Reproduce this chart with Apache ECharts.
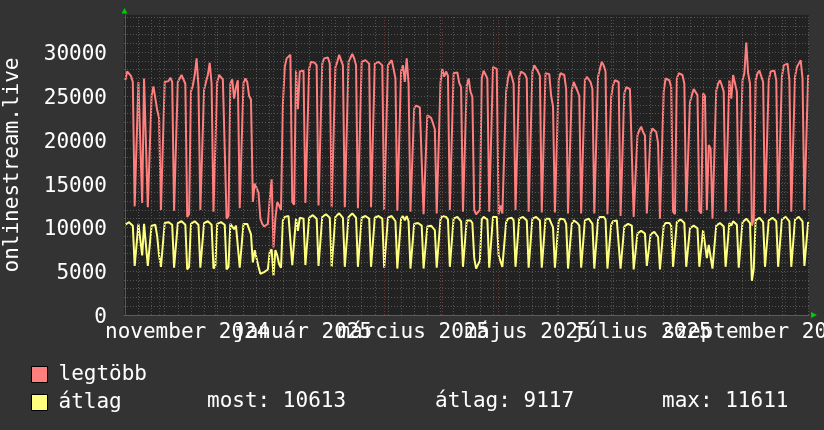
<!DOCTYPE html>
<html>
<head>
<meta charset="utf-8">
<script src="https://cdn.jsdelivr.net/npm/echarts@6/dist/echarts.min.js"></script>
<style>
html,body{margin:0;padding:0;background:#333333;}
#chart{width:824px;height:430px;}
</style>
</head>
<body>
<div id="chart"></div>
<script>
// ---- data (daily values, one row = one week Mon..Sun) ----
const startDate = '2024-10-14';
const legtobb = [
26800,27800,28000,27300,26600,12400,12300,
26600,26800,12800,27000,27200,12300,12200,
25000,26100,26300,23400,22500,12000,11800,
26600,26800,26700,27100,26600,11900,11800,
26600,27000,27400,27200,26400,11200,11500,
25500,26200,27400,29300,26100,12000,12100,
25700,26600,27400,28800,26400,11800,11800,
26600,27400,27200,26900,26700,11000,11300,
26400,26900,24700,26000,26800,12200,12000,
26500,27000,26600,25000,24600,12900,15000,
15000,14000,11000,10400,10100,10200,10400,
13200,15500,7700,11000,12900,12500,12000,
24000,28300,29300,29500,29700,12900,12600,
27900,23500,27800,27900,27900,12800,12700,
28100,28900,29000,28800,28500,12500,12600,
28700,29300,29500,29400,28700,12300,12500,
28300,28900,29700,29800,28500,12300,12400,
28900,29100,29800,29300,28500,12200,12300,
28900,29100,29100,28900,28700,12300,12400,
28700,28900,28900,28700,28500,12000,12200,
28500,28500,29100,28100,27000,11900,11800,
27800,28500,26600,29300,26400,11800,11600,
23600,23900,23800,23700,23500,11500,11400,
22800,23000,22500,21900,21200,11600,11500,
26500,28100,27200,27800,27300,12000,11900,
27600,27800,27700,26500,26000,11800,11800,
26200,27000,25500,24900,12000,11500,11300,
12000,27000,27900,27900,27000,11800,11600,
28300,28400,28100,11500,12500,11600,11500,
25500,27000,27900,27200,26400,12000,11800,
27200,27800,27800,27500,27000,11800,11700,
27800,28500,28500,27800,27300,11700,11600,
27600,27800,27500,25000,23800,11700,11600,
26800,27600,27800,27400,25800,11600,11500,
25600,26600,26800,25600,25000,11600,11400,
26800,27200,27400,26600,25800,11600,11400,
27200,28100,28900,28500,27800,11500,11400,
24900,26200,26800,26800,26600,11300,11200,
25300,26000,26200,25800,25600,11200,11000,
20500,21100,21500,20900,20500,11600,11400,
20700,21300,21500,20900,19600,11000,10800,
25500,27000,27200,26800,26000,11800,11500,
27000,27600,27800,27400,26400,11800,11600,
24300,25100,25800,25700,25100,11900,11600,
25300,25000,12000,19400,19000,11000,10800,
25600,26400,26800,26200,25500,11800,11600,
26800,24700,27400,27200,25500,11600,11500,
26800,27600,31100,27600,26400,10200,11000,
26800,27600,27900,27700,26600,11600,11400,
26800,27800,28000,27900,26800,11600,11500,
27200,28500,28700,28700,26800,11800,11600,
27200,28300,28500,29100,27000,12000,11900,
27400
];
const atlag = [
10300,10500,10600,10500,10200,5600,5800,
10400,10400,6800,10400,10300,5600,5800,
10200,10400,10300,9000,6800,5500,5600,
10500,10600,10600,10500,10300,5400,5600,
10500,10700,10700,10600,10300,5200,5500,
10400,10600,10700,10800,10300,5400,5600,
10500,10600,10700,10700,10300,5300,5600,
10400,10600,10600,10500,10300,5200,5500,
10400,10500,9800,10200,10300,5400,5600,
10400,10500,10400,9800,9200,6000,7400,
7200,5500,4700,4600,4900,5000,5200,
7200,7500,4500,7400,6800,5800,5400,
10800,11200,11300,11300,11100,5700,5800,
11000,9600,11100,11200,11000,5700,5800,
11100,11300,11400,11300,11000,5600,5800,
11200,11400,11500,11400,11100,5500,5700,
11200,11400,11611,11500,11100,5500,5700,
11200,11400,11600,11500,11100,5500,5700,
11100,11300,11300,11200,11000,5500,5700,
11100,11300,11300,11200,11000,5400,5600,
11100,11300,11300,11200,10700,5300,5500,
11000,11300,10800,11300,10700,5300,5500,
10400,10500,10500,10400,10200,5300,5500,
10100,10200,10200,10000,9700,5400,5500,
10900,11300,11200,11200,10900,5500,5600,
11000,11200,11200,11000,10700,5500,5600,
10800,11000,10800,10500,6500,5300,5400,
6200,10900,11200,11200,10900,5400,5600,
11200,11300,11200,6800,7000,5500,5500,
10600,11000,11200,11100,10800,5500,5600,
11000,11200,11200,11100,10800,5400,5600,
11000,11200,11200,11100,10800,5400,5500,
11000,11100,11000,10500,10000,5400,5500,
10700,11000,11000,10900,10400,5300,5400,
10400,10800,10800,10500,10200,5400,5500,
10800,11000,11000,10800,10400,5300,5400,
10900,11200,11300,11200,10900,5300,5400,
10300,10700,10800,10800,10600,5300,5300,
10100,10300,10400,10300,10200,5200,5300,
9300,9500,9600,9400,9300,5600,5500,
9200,9400,9500,9300,8900,5200,5200,
10200,10500,10600,10500,10200,5500,5500,
10600,10800,10900,10800,10500,5500,5500,
9900,10100,10200,10200,9900,5500,5400,
9700,9600,6500,8000,7800,5300,5300,
10200,10400,10500,10400,10100,5500,5500,
10500,10200,10700,10700,10300,5400,5500,
10600,10800,11000,10900,10500,3900,5300,
10800,11000,11100,11000,10600,5500,5500,
10800,11000,11100,11100,10700,5500,5600,
10900,11100,11200,11200,10700,5500,5600,
10900,11100,11200,11200,10700,5600,5700,
10613
];
const monthStarts = ['2024-11-01','2024-12-01','2025-01-01','2025-02-01','2025-03-01','2025-04-01',
  '2025-05-01','2025-06-01','2025-07-01','2025-08-01','2025-09-01','2025-10-01','2025-11-01'];
const labelMonthStarts = ['2024-11-01','2025-01-01','2025-03-01','2025-05-01','2025-07-01','2025-09-01'];
const labelMonthNames = ['november 2024','január 2025','március 2025','május 2025','július 2025','szeptember 2025'];
const seriesNames = ['legtöbb','átlag'];
const statTexts = ['most: 10613','átlag: 9117','max: 11611'];
const yAxisTitle = 'onlinestream.live';

// ---- helpers ----
const DAY = 86400000;
function dayIdx(s){ return (Date.parse(s+'T00:00:00Z') - Date.parse(startDate+'T00:00:00Z'))/DAY; }
const xMin = -0.69, xMax = 364.45;
const monthIdx = monthStarts.map(dayIdx);
const labelPos = labelMonthStarts.map(s => {
  const i = monthStarts.indexOf(s);
  return (monthIdx[i] + monthIdx[i+1]) / 2;
});
function labelFor(v){ let k=0,b=1e9; labelPos.forEach((p,i)=>{ if(Math.abs(p-v)<b){b=Math.abs(p-v);k=i;} }); return labelMonthNames[k]; }
// two label sets so neighbouring (overlapping) labels are all kept, as in the original
const labelPosA = labelPos.filter((p,i)=>i%2===0);
const labelPosB = labelPos.filter((p,i)=>i%2===1);
const weekLines = [];
for (let d = 0; d <= legtobb.length; d += 7) weekLines.push(d);

const FONT = 'DejaVu Sans Mono';
const RED = '#ff7f7f', YEL = '#ffff7f';
const minorCol = '#545454', majorCol = '#773535';
const TXT = '21px "DejaVu Sans Mono"';

function labelAxis(vals){
  return {type:'value', min:xMin, max:xMax, position:'bottom',
    axisLine:{show:false}, axisTick:{show:false}, splitLine:{show:false},
    axisLabel:{show:true, customValues:vals, showMinLabel:true, showMaxLabel:true, hideOverlap:false,
      margin:7, color:'#ffffff', fontFamily:FONT, fontSize:21, formatter: labelFor}};
}

const chart = echarts.init(document.getElementById('chart'), null, {renderer:'canvas'});
chart.setOption({
  animation: false,
  backgroundColor: '#333333',
  grid: {left:124, top:15, width:685, height:300, show:true, backgroundColor:'#222222', borderWidth:0,
         containLabel:false, outerBoundsMode:'none'},
  xAxis: [
    {type:'value', min:xMin, max:xMax, position:'bottom',
     axisLine:{show:true, lineStyle:{color:'#5c5c5c', width:1}}, axisTick:{show:false},
     axisLabel:{show:false}, splitLine:{show:false}},
    labelAxis(labelPosA),
    labelAxis(labelPosB)
  ],
  yAxis: [
    {type:'value', min:0, max:34250, interval:5000, position:'left',
     axisLine:{show:true, lineStyle:{color:'#5c5c5c'}}, axisTick:{show:false},
     axisLabel:{show:true, color:'#ffffff', fontFamily:FONT, fontSize:21, margin:17, showMaxLabel:false,
       verticalAlign:'top', lineHeight:5, formatter: v => String(v)},
     splitLine:{show:true, showMaxLine:false, lineStyle:{color:majorCol, type:[1,2], width:1}}},
    {type:'value', min:0, max:34250, interval:1000, position:'left',
     axisLine:{show:false}, axisTick:{show:false}, axisLabel:{show:false},
     splitLine:{show:true, showMaxLine:false, lineStyle:{color:minorCol, type:[1,2], width:1}}}
  ],
  legend: {
    orient:'vertical', left:26, top:359, itemWidth:16, itemHeight:16, itemGap:7, icon:'rect',
    data: seriesNames,
    itemStyle:{borderColor:'#000000', borderWidth:1},
    textStyle:{color:'#ffffff', fontFamily:FONT, fontSize:21, padding:[0,0,0,6]},
    selectedMode:false
  },
  series: [
    {type:'line', name:'grid', xAxisIndex:0, yAxisIndex:0, data:[], z:1, silent:true,
     markLine:{silent:true, symbol:['none','none'], label:{show:false}, animation:false,
       data: weekLines.map(d=>({xAxis:d, lineStyle:{color:minorCol, type:[1,2], width:1}}))
         .concat(monthIdx.map(d=>({xAxis:d, lineStyle:{color:majorCol, type:[1,2], width:1}})))
     }},
    {type:'line', name:seriesNames[0], xAxisIndex:0, yAxisIndex:0, z:3,
     data: legtobb.map((v,i)=>[i,v]), showSymbol:false, symbol:'none',
     lineStyle:{color:RED, width:2}, itemStyle:{color:RED}},
    {type:'line', name:seriesNames[1], xAxisIndex:0, yAxisIndex:0, z:4,
     data: atlag.map((v,i)=>[i,v]), showSymbol:false, symbol:'none',
     lineStyle:{color:YEL, width:2}, itemStyle:{color:YEL}}
  ],
  graphic: [
    {type:'text', x:12.5, y:165, rotation:Math.PI/2,
     style:{text:yAxisTitle, fill:'#ffffff', font:TXT, align:'center', verticalAlign:'middle'}},
    {type:'polygon', shape:{points:[[121.5,13.5],[127.5,13.5],[124.5,8]]}, style:{fill:'#00cc00'}},
    {type:'polygon', shape:{points:[[811,312],[811,318],[817,315]]}, style:{fill:'#00cc00'}},
    {type:'text', x:207, y:401.5, style:{text:statTexts[0], fill:'#ffffff', font:TXT, verticalAlign:'middle'}},
    {type:'text', x:435, y:401.5, style:{text:statTexts[1], fill:'#ffffff', font:TXT, verticalAlign:'middle'}},
    {type:'text', x:662, y:401.5, style:{text:statTexts[2], fill:'#ffffff', font:TXT, verticalAlign:'middle'}}
  ]
});
</script>
</body>
</html>
